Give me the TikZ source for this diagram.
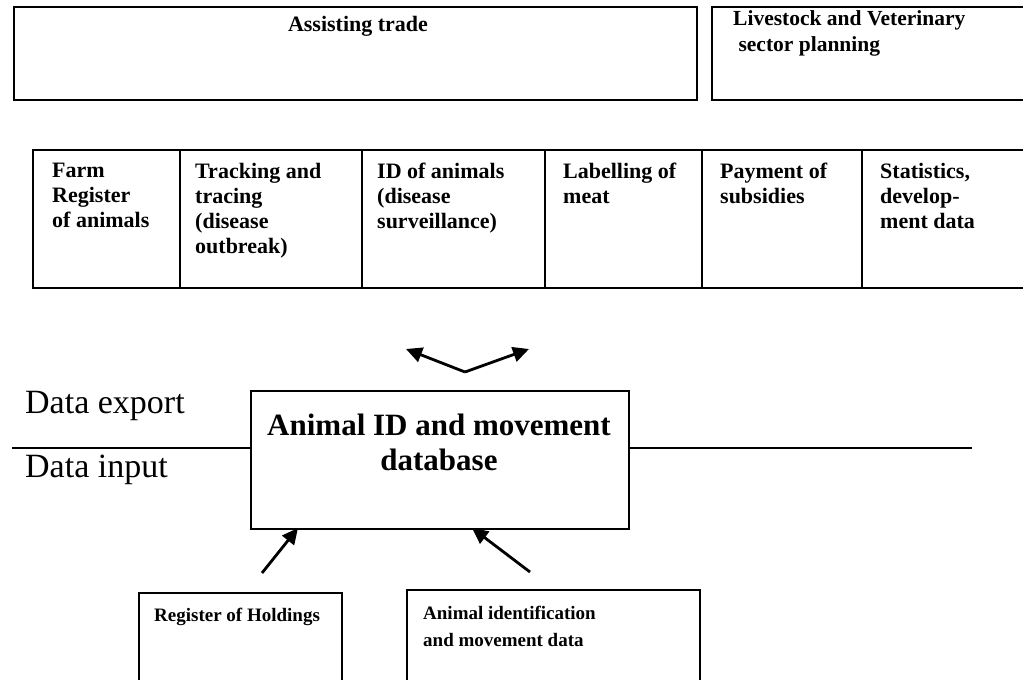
\documentclass[tikz,border=0pt]{standalone}
\usepackage{fontspec}
\setmainfont{Liberation Serif}
\usetikzlibrary{arrows.meta}
\begin{document}
\begin{tikzpicture}[x=1pt,y=-1pt,
  box/.style={draw=black,line width=1.6pt,inner sep=0pt},
  boxtext/.style={font=\bfseries\fontsize{22}{25}\selectfont,align=left,inner sep=0pt,anchor=north west},
  srctext/.style={font=\bfseries\fontsize{19}{27}\selectfont,align=left,inner sep=0pt,anchor=north west},
  bigtext/.style={font=\fontsize{34}{38}\selectfont,inner sep=0pt,anchor=west},
  flow/.style={line width=2.8pt,-{Triangle[length=16pt,width=15pt]}},
  rule/.style={line width=2.6pt}]
\useasboundingbox (0,0) rectangle (1023,680);

% top band
\draw[box] (14,7) rectangle (697,100);
\node[font=\bfseries\fontsize{22}{26}\selectfont,inner sep=0pt] (trade) at (358,26) {Assisting trade};
\draw[box] (712,7) rectangle (1040,100);
\node[boxtext,font=\bfseries\fontsize{21.5}{26}\selectfont] (plan) at (733,10) {Livestock and Veterinary\\[0pt]\ sector planning};

% row of applications
\draw[box] (33,150) rectangle (1040,288);
\foreach \x in {180,362,545,702,862} \draw[box] (\x,150) -- (\x,288);
\node[boxtext] (c1) at (52,163) {Farm\\Register\\of animals};
\node[boxtext] (c2) at (195,163) {Tracking and\\tracing\\(disease\\outbreak)};
\node[boxtext] (c3) at (377,163) {ID of animals\\(disease\\surveillance)};
\node[boxtext] (c4) at (563,163) {Labelling of\\meat};
\node[boxtext] (c5) at (720,163) {Payment of\\subsidies};
\node[boxtext] (c6) at (880,163) {Statistics,\\develop-\\ment data};

% central database
\node[box,minimum width=378pt,minimum height=138pt,anchor=north west] (db) at (250,390) {};
\node[font=\bfseries\fontsize{31}{35}\selectfont,align=center,inner sep=0pt] (dbt) at (439,442) {Animal ID and movement\\database};

% export / input divider
\coordinate (l0) at (12,448);
\coordinate (r0) at (972,448);
\draw[rule] (l0) -- (db.west |- l0);
\draw[rule] (db.east |- r0) -- (r0);
\node[bigtext] (exp) at (25,406) {Data export};
\node[bigtext] (inp) at (25,470) {Data input};

% export arrows
\coordinate (vb) at (465,372);
\coordinate (ea) at (406,349);
\coordinate (eb) at (529,349);
\draw[flow] (vb) -- (ea);
\draw[flow] (vb) -- (eb);

% data sources
\draw[box] (139,690) -- (139,593) -- (342,593) -- (342,690);
\node[srctext] (reg) at (154,608) {Register of Holdings};
\draw[box] (407,690) -- (407,590) -- (700,590) -- (700,690);
\node[srctext] (aim) at (423,606) {Animal identification\\and movement data};
\coordinate (s1) at (262,573);
\coordinate (s2) at (530,572);
\draw[flow] (s1) -- (298,528);
\draw[flow] (s2) -- (472,528);
\end{tikzpicture}
\end{document}
